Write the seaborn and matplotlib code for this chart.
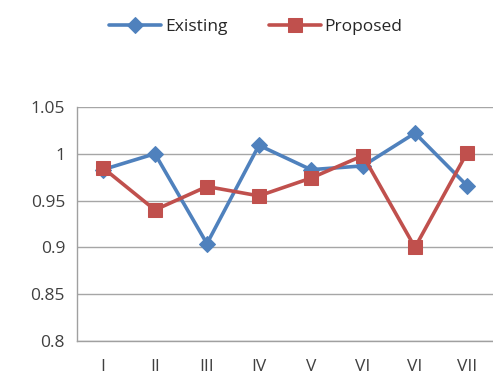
import numpy as np
import pandas as pd
import matplotlib
matplotlib.use("Agg")
import matplotlib.pyplot as plt
import seaborn as sns

categories = ["I", "II", "III", "IV", "V", "VI", "VI", "VII"]
existing = [0.983, 1.000, 0.904, 1.009, 0.983, 0.987, 1.022, 0.966]
proposed = [0.985, 0.940, 0.965, 0.955, 0.974, 0.998, 0.900, 1.001]

sns.set_theme(style="white")
plt.rcParams["font.family"] = ["Open Sans", "DejaVu Sans"]

pos = np.arange(len(categories))
df = pd.DataFrame({
    "pos": np.concatenate([pos, pos]),
    "value": existing + proposed,
    "series": ["Existing"] * len(pos) + ["Proposed"] * len(pos),
})

fig = plt.figure(figsize=(4.93, 3.79), dpi=100)
ax = fig.add_axes([0.156, 0.10, 0.844, 0.618])

palette = {"Existing": "#4F81BD", "Proposed": "#C0504D"}
markers = {"Existing": "D", "Proposed": "s"}
sizes = {"Existing": 8, "Proposed": 10}

for name in ["Existing", "Proposed"]:
    sub = df[df["series"] == name]
    sns.lineplot(data=sub, x="pos", y="value", ax=ax, color=palette[name],
                 marker=markers[name], markersize=sizes[name], linewidth=2.6,
                 markeredgecolor=palette[name], label=name, sort=False)

ax.set_xlim(-0.5, len(categories) - 0.5)
ax.set_ylim(0.8, 1.05)
ax.set_yticks([0.8, 0.85, 0.9, 0.95, 1.0, 1.05])
ax.set_yticklabels(["0.8", "0.85", "0.9", "0.95", "1", "1.05"])
ax.set_xticks(pos)
ax.set_xticklabels(categories)
ax.set_xticks(np.arange(-0.5, len(categories) - 0.5, 1), minor=True)
ax.tick_params(axis="x", which="major", length=0, pad=13, labelsize=12.5, colors="#404040")
ax.tick_params(axis="x", which="minor", length=5, width=1, color="#A0A0A0", direction="out")
ax.tick_params(axis="y", length=5, width=1, direction="out", labelsize=12.5,
               colors="#A0A0A0", labelcolor="#404040")
ax.set_xlabel("")
ax.set_ylabel("")
ax.grid(axis="y", color="#A6A6A6", linewidth=1)
ax.set_axisbelow(True)
for s in ["top", "right"]:
    ax.spines[s].set_visible(False)
for s in ["left", "bottom"]:
    ax.spines[s].set_color("#A0A0A0")
    ax.spines[s].set_linewidth(1)

ax.legend(loc="center", bbox_to_anchor=(0.43, 1.34), ncol=2, frameon=False,
          fontsize=12.5, handlelength=3.0, columnspacing=2.4, handletextpad=0.2)

fig.savefig("out.png", dpi=100)
